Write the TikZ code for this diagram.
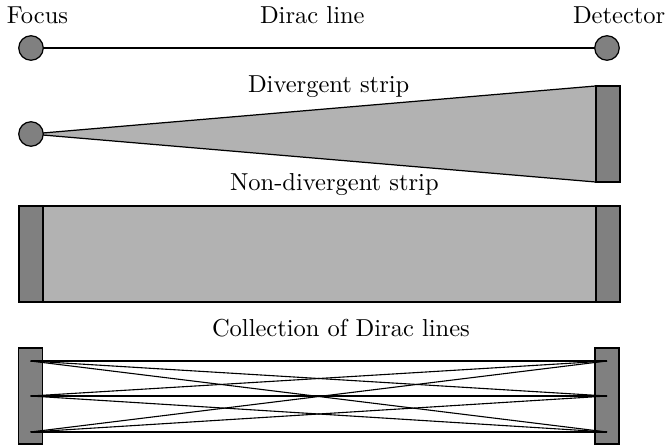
\documentclass[tikz,border=0pt]{standalone}
\usetikzlibrary{backgrounds}
\begin{document}
\begin{tikzpicture}[x=0.408pt,y=-0.408pt,
  every node/.style={inner sep=0pt, outer sep=0pt},
  lbl/.style={anchor=base west, font=\fontsize{10}{12}\selectfont},
  src/.style={circle, draw, fill=black!50, line width=0.5pt, minimum size=10pt},
  det/.style={rectangle, draw, fill=black!50, line width=0.5pt, minimum width=9.8pt, minimum height=39.2pt},
  beam/.style={draw, fill=black!30, line width=0.5pt},
  ray/.style={line width=0.45pt}]
\useasboundingbox (0,0) rectangle (672,448);
% row 1: Dirac line
\node[lbl] (focus) at (7,24) {Focus};
\node[lbl] (dirac) at (260,24) {Dirac line};
\node[lbl] (detlbl) at (573,24) {Detector};
\node[src] (f1) at (31,48) {};
\node[src] (d1) at (607,48) {};
\draw[ray] (f1) -- (d1);
% row 2: divergent strip
\node[lbl] (divlbl) at (248,93) {Divergent strip};
\node[det] (d2) at (608,134) {};
\coordinate (f2c) at (31,134);
\begin{scope}[on background layer]
  \path[beam] (f2c) -- (d2.north west) -- (d2.south west) -- cycle;
\end{scope}
\node[src] (f2) at (f2c) {};
% row 3: non-divergent strip
\node[lbl] (ndlbl) at (230,191) {Non-divergent strip};
\node[beam, rectangle, minimum width=245.2pt, minimum height=39.2pt] (strip) at (319.5,254) {};
\node[det] (d3l) at (31,254) {};
\node[det] (d3r) at (608,254) {};
% row 4: collection of Dirac lines
\node[lbl] (collbl) at (212,336) {Collection of Dirac lines};
\node[det] (d4l) at (30.5,396) {};
\node[det] (d4r) at (607,396) {};
\coordinate (l1) at (30.5,361);
\coordinate (l2) at (30.5,396);
\coordinate (l3) at (30.5,432);
\coordinate (r1) at (607,361);
\coordinate (r2) at (607,396);
\coordinate (r3) at (607,432);
\foreach \i in {1,2,3}{
  \foreach \j in {1,2,3}{
    \draw[ray] (l\i) -- (r\j);
  }
}
\end{tikzpicture}
\end{document}
